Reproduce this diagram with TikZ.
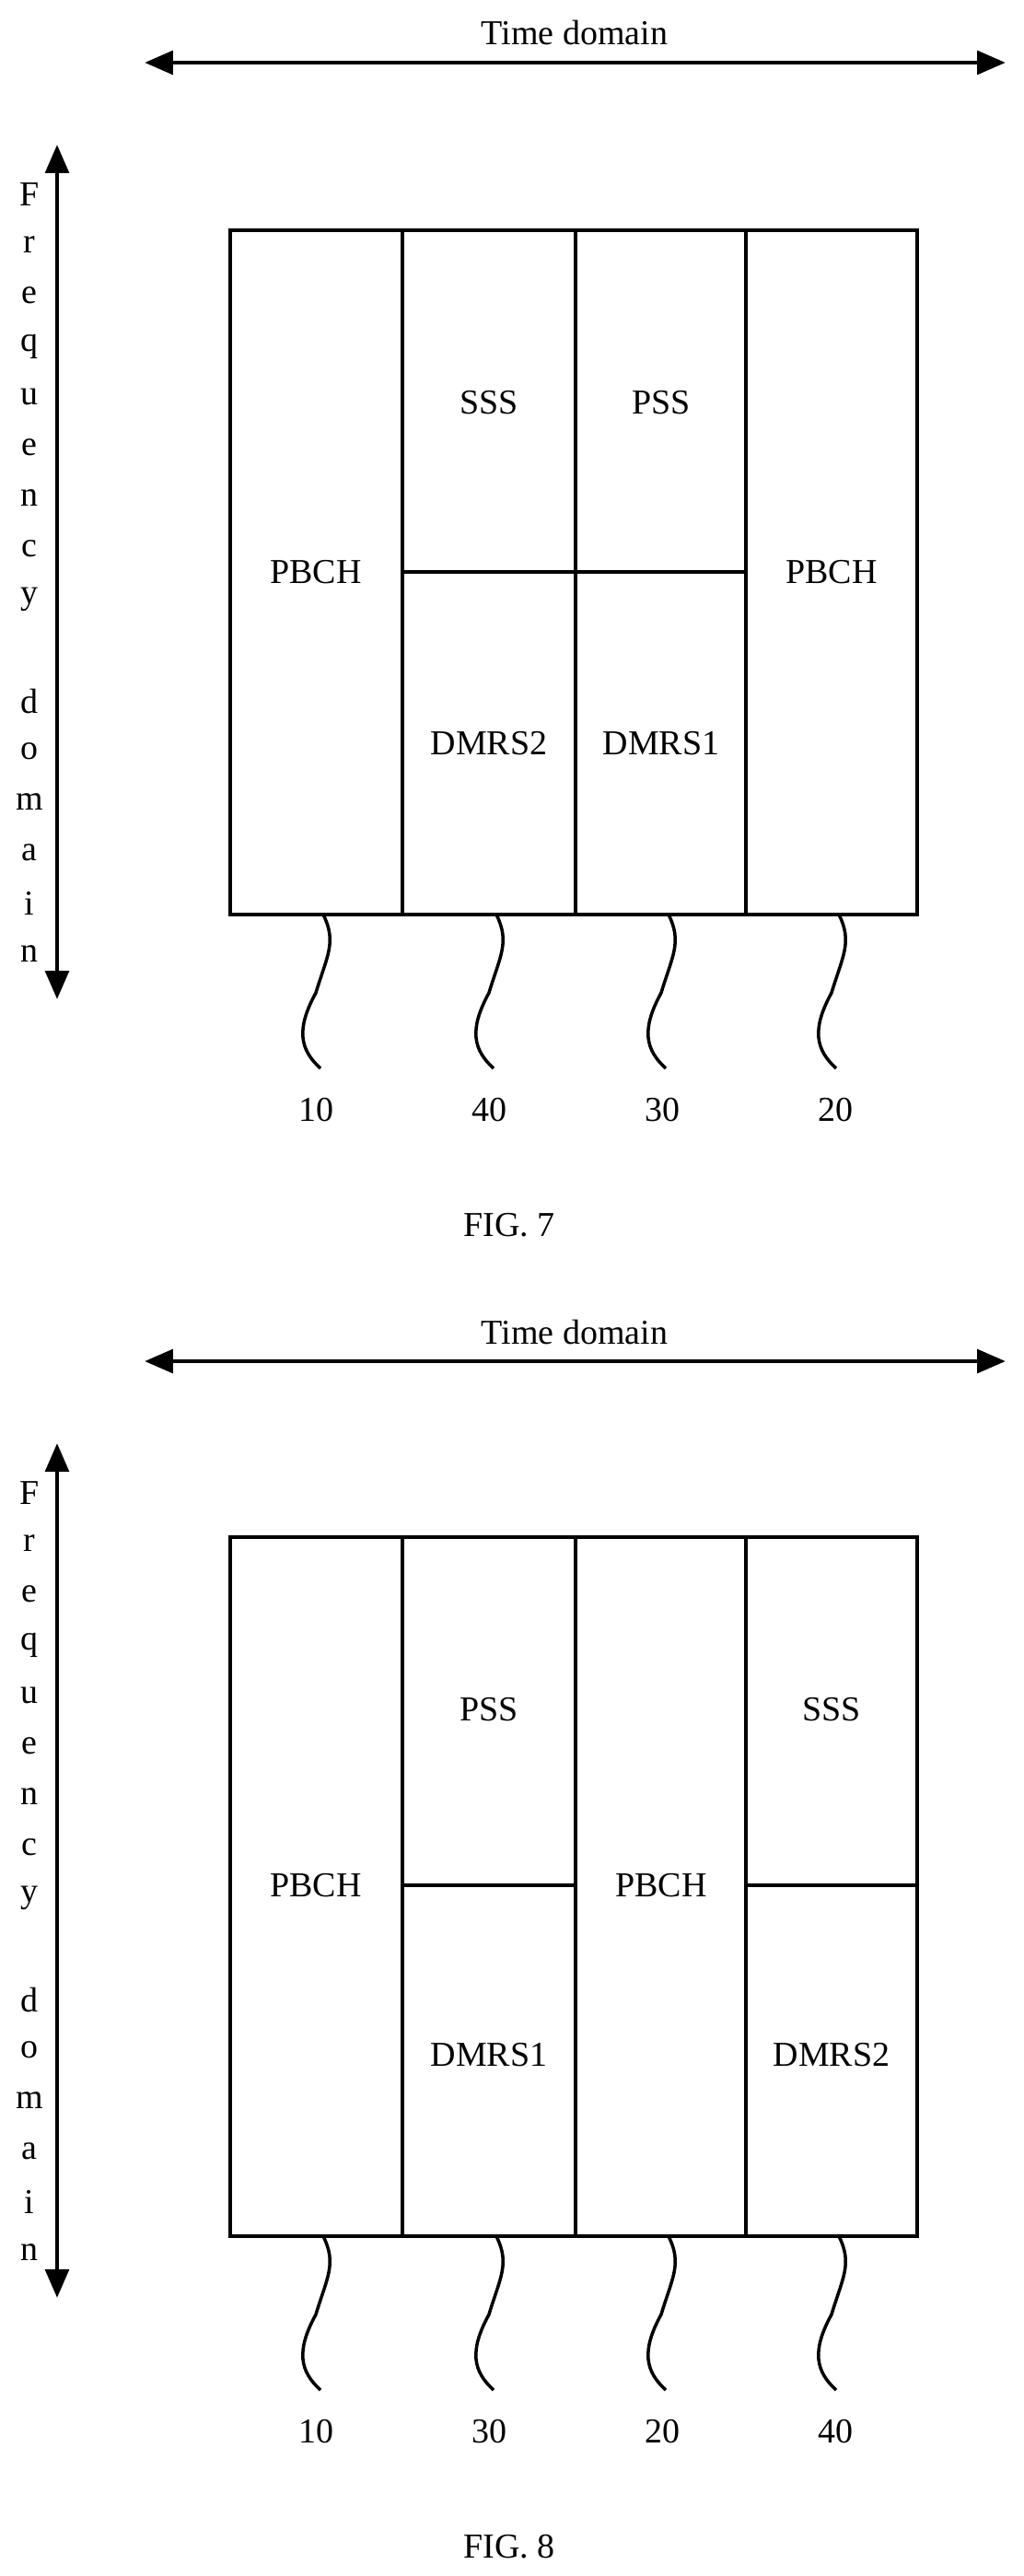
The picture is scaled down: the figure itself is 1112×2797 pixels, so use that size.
\documentclass[tikz,border=0pt]{standalone}
\usepackage{fontspec}
\setmainfont{Liberation Serif}
\usetikzlibrary{arrows.meta,positioning}
\tikzset{
	cell/.style={draw, line width=2.8pt, minimum width=187\pxu, inner sep=0pt},
	axis/.style={line width=3.5pt, {Triangle[length=22pt,width=18pt]}-{Triangle[length=22pt,width=18pt]}},
	squig/.style={line width=2.5pt},
	lbl/.style={inner sep=0pt},
}
\newlength\pxu
\setlength\pxu{0.025cm}
\newcommand\squiggle[1]{%
	\draw[squig] (#1) .. controls ++(15\pxu,-30\pxu) and ++(12\pxu,40\pxu) .. ++(-8\pxu,-85\pxu)
		.. controls ++(-22\pxu,-40\pxu) and ++(-22\pxu,20\pxu) .. ++(5\pxu,-82\pxu);}
\begin{document}
\begin{tikzpicture}[x=0.025cm, y=-0.025cm, font=\fontsize{27}{32}\selectfont]
	\useasboundingbox (0,0) rectangle (1112,2797);
	% one figure per pass: top y, box top, box bottom, caption, labels
	\foreach \fy/\bt/\bb/\cap/\num [count=\k] in {0/250/993/7/{10,40,30,20}, 1410/1669/2428/8/{10,30,20,40}} {
		\pgfmathsetmacro\mid{(\bt+\bb)/2}
		% axes
		\coordinate (tl\k) at (157,68+\fy);
		\coordinate (tr\k) at (1092,68+\fy);
		\draw[axis] (tl\k) -- (tr\k);
		\node[lbl] (time\k) at (624,36+\fy) {Time domain};
		\coordinate (fu\k) at (62,157+\fy);
		\coordinate (fd\k) at (62,1085+\fy);
		\draw[axis] (fu\k) -- (fd\k);
		\foreach \ch [count=\i from 0] in {F,r,e,q,u,e,n,c,y,{},d,o,m,a,i,n}
			\node[lbl] (f\k-\i) at (32,211+\fy+55*\i) {\ch};
		% outer box and columns
		\draw[line width=2.8pt] (250,\bt) rectangle (996,\bb);
		\foreach \x in {437,625,810}
			\draw[line width=2.8pt] (\x,\bt) -- (\x,\bb);
		% squiggles and reference numbers
		\foreach \x/\n [count=\j] in {351/0,539/1,726/2,911/3} {
			\coordinate (sq\k-\j) at (\x,\bb);
			\squiggle{sq\k-\j}
		}
		\foreach \n [count=\j] in \num
			\node[lbl] (num\k-\j) at (155+188*\j,\bb+212) {\n};
		\node[lbl] (fig\k) at (553,\bb+337) {FIG. \cap};
	}
	% FIG. 7 contents
	\draw[line width=2.8pt] (437,621) -- (810,621);
	\node (pbch1) at (343,621) {PBCH};
	\node (sss1) at (531,437) {SSS};
	\node (pss1) at (718,437) {PSS};
	\node (dmrs2a) at (531,807) {DMRS2};
	\node (dmrs1a) at (718,807) {DMRS1};
	\node (pbch2) at (903,621) {PBCH};
	% FIG. 8 contents
	\draw[line width=2.8pt] (437,2047) -- (625,2047);
	\draw[line width=2.8pt] (810,2047) -- (996,2047);
	\node (pbch3) at (343,2047) {PBCH};
	\node (pss2) at (531,1856) {PSS};
	\node (dmrs1b) at (531,2231) {DMRS1};
	\node (pbch4) at (718,2047) {PBCH};
	\node (sss2) at (903,1856) {SSS};
	\node (dmrs2b) at (903,2231) {DMRS2};
\end{tikzpicture}
\end{document}
